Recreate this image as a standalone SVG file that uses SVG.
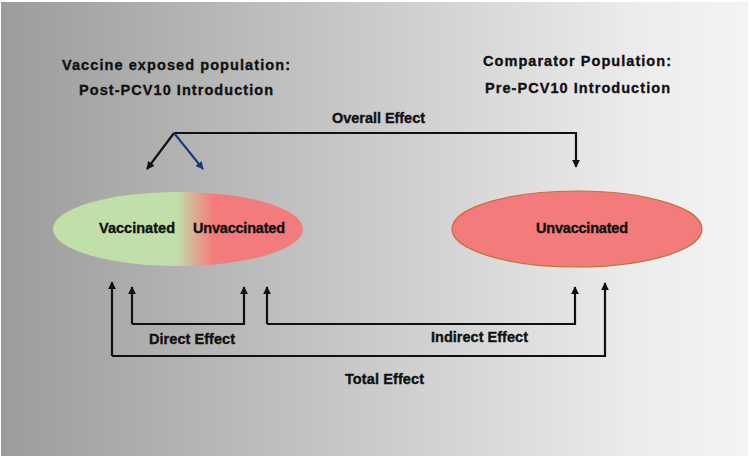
<svg xmlns="http://www.w3.org/2000/svg" width="750" height="459" viewBox="0 0 750 459">
<style>
text{font-family:"Liberation Sans",Arial,sans-serif;font-weight:bold;font-size:14.5px;fill:#111;stroke:#111;stroke-width:0.35}
.ln{fill:none;stroke:#111;stroke-width:2.2}
.bl{fill:none;stroke:#1a3480;stroke-width:2}
</style>
<defs>
<linearGradient id="bg" x1="0" y1="0" x2="1" y2="0">
<stop offset="0" stop-color="#9c9c9c"/>
<stop offset="0.5" stop-color="#cbcbcb"/>
<stop offset="0.85" stop-color="#ececec"/>
<stop offset="1" stop-color="#f4f4f4"/>
</linearGradient>
<linearGradient id="mix" gradientUnits="userSpaceOnUse" x1="53" y1="0" x2="303" y2="0">
<stop offset="0" stop-color="#c1dfa8"/>
<stop offset="0.496" stop-color="#c1dfa8"/>
<stop offset="0.64" stop-color="#f47b7b"/>
<stop offset="1" stop-color="#f47b7b"/>
</linearGradient>
<marker id="ah" viewBox="0 0 10 10" refX="9" refY="5" markerWidth="8" markerHeight="8" markerUnits="userSpaceOnUse" orient="auto">
<path d="M0,0 L10,5 L0,10 Z" fill="#111"/>
</marker>
<marker id="ahb" viewBox="0 0 10 10" refX="9" refY="5" markerWidth="8" markerHeight="8" markerUnits="userSpaceOnUse" orient="auto">
<path d="M0,0 L10,5 L0,10 Z" fill="#1a3480"/>
</marker>
</defs>
<rect x="0" y="0" width="750" height="459" fill="#ffffff"/>
<rect x="1" y="2" width="747" height="454" fill="url(#bg)"/>

<g id="title-left">
<text x="62" y="70" textLength="228" lengthAdjust="spacing">Vaccine exposed population:</text>
<text x="79" y="95" textLength="194" lengthAdjust="spacing">Post-PCV10 Introduction</text>
</g>
<g id="title-right">
<text x="483" y="66" textLength="188" lengthAdjust="spacing">Comparator Population:</text>
<text x="485" y="93" textLength="185" lengthAdjust="spacing">Pre-PCV10 Introduction</text>
</g>

<g id="exposed">
<ellipse cx="178" cy="229" rx="125" ry="37" fill="url(#mix)"/>
<text x="99" y="233" textLength="76" lengthAdjust="spacing">Vaccinated</text>
<text x="193" y="233" textLength="92" lengthAdjust="spacing">Unvaccinated</text>
</g>

<g id="comparator">
<ellipse cx="577" cy="229" rx="125" ry="38" fill="#f47b7b" stroke="#c0703f" stroke-width="1.2"/>
<text x="536" y="233" textLength="92" lengthAdjust="spacing">Unvaccinated</text>
</g>

<g id="connectors">
<path class="ln" d="M174,133 H576 V167" marker-end="url(#ah)"/>
<path class="ln" d="M174,133 L147,169" marker-end="url(#ah)"/>
<path class="bl" d="M174,133 L203,169" marker-end="url(#ahb)"/>
<path class="ln" d="M132,324 H244 V287" marker-end="url(#ah)"/>
<path class="ln" d="M132,324 V287" marker-end="url(#ah)"/>
<path class="ln" d="M267,324 H575 V287" marker-end="url(#ah)"/>
<path class="ln" d="M267,324 V287" marker-end="url(#ah)"/>
<path class="ln" d="M112,356 H605 V283" marker-end="url(#ah)"/>
<path class="ln" d="M112,356 V282" marker-end="url(#ah)"/>
</g>

<g id="labels">
<text x="332" y="123" textLength="93" lengthAdjust="spacing">Overall Effect</text>
<text x="149" y="344" textLength="86" lengthAdjust="spacing">Direct Effect</text>
<text x="431" y="342" textLength="97" lengthAdjust="spacing">Indirect Effect</text>
<text x="345" y="384" textLength="79" lengthAdjust="spacing">Total Effect</text>
</g>
</svg>
